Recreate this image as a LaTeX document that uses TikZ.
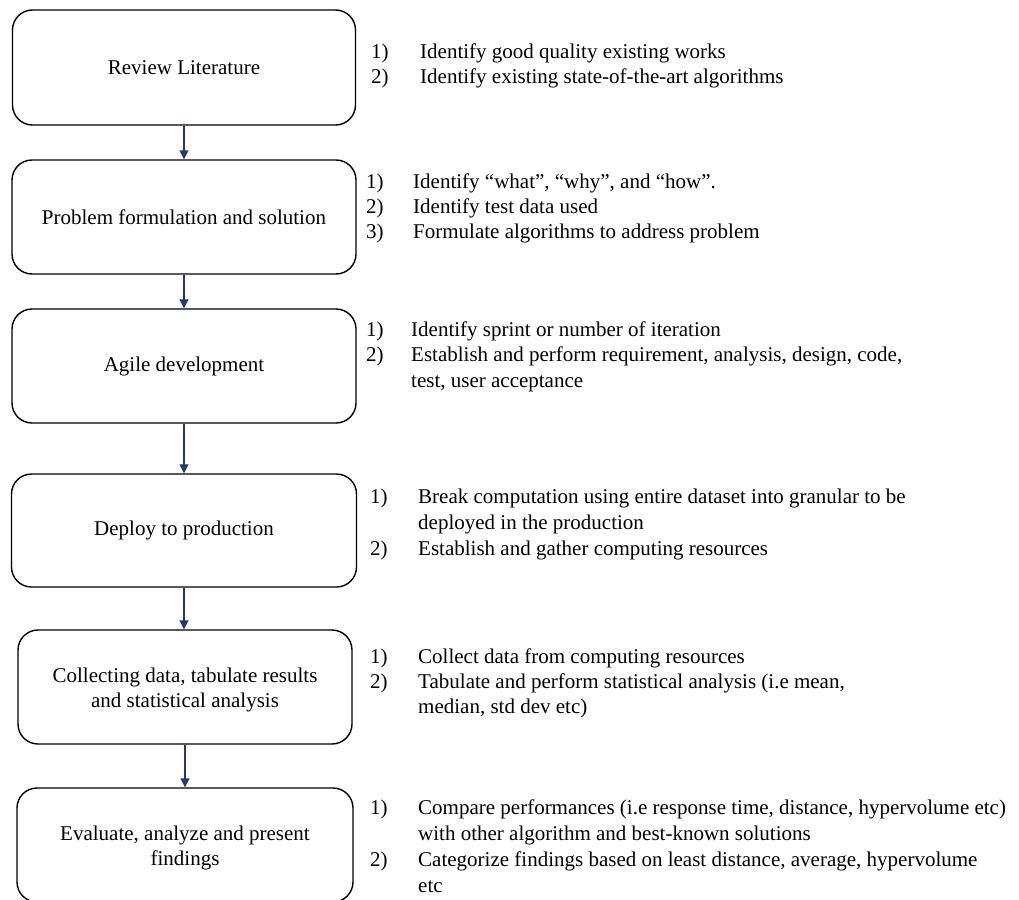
\documentclass[tikz,border=0pt]{standalone}
\usepackage{fontspec}
\setmainfont{Liberation Serif}
\newfontfamily\tnr{Liberation Serif}
\usetikzlibrary{arrows.meta}
\definecolor{navy}{HTML}{1F3A75}
\newcommand{\twolines}[2]{\raisebox{-3pt}[\height][\depth]{\begin{tabular}{@{}c@{}}#1\\#2\end{tabular}}}
\begin{document}
\begin{tikzpicture}[x=1pt,y=-1pt,
  stage/.style={draw=black, line width=1.4pt, rounded corners=20pt, align=center,
    inner sep=0pt, font=\tnr\fontsize{21}{25}\selectfont},
  num/.style={anchor=mid west, inner sep=0pt, yshift=-4pt, font=\tnr\fontsize{21}{25}\selectfont},
  item/.style={anchor=mid west, inner sep=0pt, yshift=-4pt, font=\tnr\fontsize{21}{25}\selectfont},
  flow/.style={draw=navy, line width=1.3pt, -{Triangle[length=9pt,width=9pt]}}]
\useasboundingbox (0,0) rectangle (1019,899);
\clip (0,0) rectangle (1019,899);
% stages
\node[stage, minimum width=343pt, minimum height=115pt] (b1) at (184,67.5) {Review Literature};
\node[stage, minimum width=344pt, minimum height=114pt] (b2) at (184,217) {Problem formulation and solution};
\node[stage, minimum width=344pt, minimum height=114pt] (b3) at (184,366) {Agile development};
\node[stage, minimum width=345pt, minimum height=113pt] (b4) at (184,530.5) {Deploy to production};
\node[stage, minimum width=334pt, minimum height=114pt] (b5) at (185,687) {\twolines{Collecting data, tabulate results}{and statistical analysis}};
\node[stage, minimum width=336pt, minimum height=114pt] (b6) at (185,845) {\twolines{Evaluate, analyze and present}{findings}};
% connectors
\draw[flow] (b1.south) -- (b1.south |- b2.north);
\draw[flow] (b2.south) -- (b2.south |- b3.north);
\draw[flow] (b3.south) -- (b3.south |- b4.north);
\draw[flow] (b4.south) -- (b4.south |- b5.north);
\draw[flow] (b5.south) -- (b5.south |- b6.north);
% list 1
\node[num] (n11) at (371,52) {1)};
\node[item] (t11) at (420,52) {Identify good quality existing works};
\node[num] (n12) at (371,77) {2)};
\node[item] (t12) at (420,77) {Identify existing state-of-the-art algorithms};
% list 2
\node[num] (n21) at (366,182) {1)};
\node[item] (t21) at (413,182) {Identify “what”, “why”, and “how”.};
\node[num] (n22) at (366,207) {2)};
\node[item] (t22) at (413,207) {Identify test data used};
\node[num] (n23) at (366,232) {3)};
\node[item] (t23) at (413,232) {Formulate algorithms to address problem};
% list 3
\node[num] (n31) at (366,330) {1)};
\node[item] (t31) at (411,330) {Identify sprint or number of iteration};
\node[num] (n32) at (366,355) {2)};
\node[item] (t32) at (411,355) {Establish and perform requirement, analysis, design, code,};
\node[item] (t33) at (411,381) {test, user acceptance};
% list 4
\node[num] (n41) at (370,497) {1)};
\node[item] (t41) at (418,497) {Break computation using entire dataset into granular to be};
\node[item] (t42) at (418,523) {deployed in the production};
\node[num] (n42) at (370,549) {2)};
\node[item] (t43) at (418,549) {Establish and gather computing resources};
% list 5
\node[num] (n51) at (370,657) {1)};
\node[item] (t51) at (418,657) {Collect data from computing resources};
\node[num] (n52) at (370,682) {2)};
\node[item] (t52) at (418,682) {Tabulate and perform statistical analysis (i.e mean,};
\node[item] (t53) at (418,707) {median, std dev etc)};
% list 6
\node[num] (n61) at (370,808) {1)};
\node[item] (t61) at (418,808) {Compare performances (i.e response time, distance, hypervolume etc)};
\node[item] (t62) at (418,834) {with other algorithm and best-known solutions};
\node[num] (n62) at (370,860) {2)};
\node[item] (t63) at (418,860) {Categorize findings based on least distance, average, hypervolume};
\node[item] (t64) at (418,886) {etc};
\end{tikzpicture}
\end{document}
